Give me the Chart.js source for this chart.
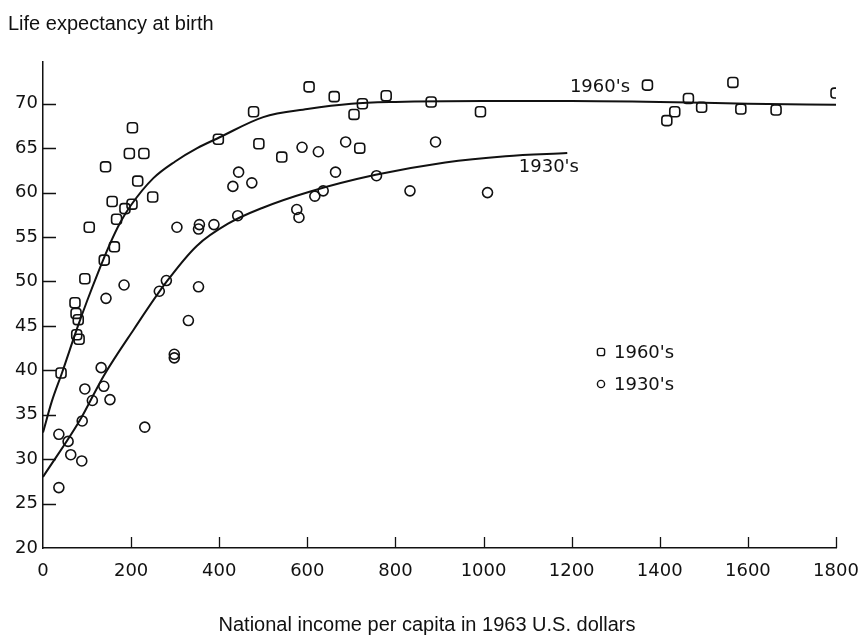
<!DOCTYPE html>
<html>
<head>
<meta charset="utf-8">
<script src="https://cdn.jsdelivr.net/npm/chart.js@4/dist/chart.umd.min.js"></script>
<style>
  html, body { margin: 0; padding: 0; background: #ffffff; }
  #wrap { width: 860px; height: 642px; position: relative; }
</style>
</head>
<body>
<div id="wrap"><canvas id="chart" width="860" height="642"></canvas></div>
<script>
// Axis ticks
const incomeTicks = [0, 200, 400, 600, 800, 1000, 1200, 1400, 1600, 1800];
const lifeTicks = [20, 25, 30, 35, 40, 45, 50, 55, 60, 65, 70];

// Countries observed in the 1960's (national income per capita, life expectancy)
const income1960 = [41, 72.6, 75, 80, 76.5, 82, 95, 105, 139, 162, 167, 157, 186, 202, 142, 215, 196, 229, 203, 249,
                    398, 478, 490, 542, 604, 661, 706, 725, 779, 881, 993, 719,
                    1372, 1416, 1434, 1465, 1495, 1566, 1584, 1664, 1800];
const life1960 = [39.7, 47.6, 46.4, 45.7, 44.0, 43.5, 50.3, 56.1, 52.4, 53.9, 57.0, 59.0, 58.2, 58.7, 62.9, 61.3, 64.4, 64.4, 67.3, 59.5,
                  66.0, 69.1, 65.5, 64.0, 71.9, 70.8, 68.8, 70.0, 70.9, 70.2, 69.1, 65.0,
                  72.1, 68.1, 69.1, 70.6, 69.6, 72.4, 69.4, 69.3, 71.2];

// Countries observed in the 1930's
const income1930 = [36, 57, 63, 88, 36, 89, 95, 112, 132, 138, 152, 231, 143, 184, 264, 280, 353, 330, 298, 298,
                    304, 355, 353, 388, 442, 431, 474, 444, 576, 581, 617, 636, 664, 757, 833, 1009,
                    588, 625, 687, 891];
const life1930 = [32.8, 32.0, 30.5, 29.8, 26.8, 34.3, 37.9, 36.6, 40.3, 38.2, 36.7, 33.6, 48.1, 49.6, 48.9, 50.1, 49.4, 45.6, 41.8, 41.4,
                  56.1, 56.4, 55.9, 56.4, 57.4, 60.7, 61.1, 62.3, 58.1, 57.2, 59.6, 60.2, 62.3, 61.9, 60.2, 60.0,
                  65.1, 64.6, 65.7, 65.7];

// Fitted curves
const fitIncome1960 = [0, 20, 43, 78, 100, 125, 150, 175, 200, 250, 300, 350, 400, 500, 600, 700, 800, 1000, 1200, 1400, 1600, 1800];
const fitLife1960 = [33, 36.5, 39.7, 44.8, 47.8, 51.0, 54.0, 56.6, 58.6, 61.6, 63.5, 65.0, 66.2, 68.5, 69.4, 70.0, 70.2, 70.3, 70.3, 70.2, 70.0, 69.9];
const fitIncome1930 = [0, 84, 138, 206, 281, 349, 420, 499, 605, 755, 913, 1050, 1190];
const fitLife1930 = [28.0, 34.4, 39.4, 44.6, 50.0, 54.0, 56.5, 58.3, 60.1, 62.0, 63.4, 64.1, 64.45];

const seriesNames = ["1960's", "1930's"];
const yAxisTitle = 'Life expectancy at birth';
const xAxisTitle = 'National income per capita in 1963 U.S. dollars';

const INK = '#111111';
const LETTER_FONT = '"DejaVu Sans", sans-serif';
const TITLE_FONT = '"Liberation Sans", Arial, sans-serif';

const toPoints = (xs, ys) => xs.map((x, i) => ({ x: x, y: ys[i] }));

// Inward tick marks, curve captions, legend and axis titles
const decorations = {
  id: 'decorations',
  afterDraw(chart) {
    const ctx = chart.ctx;
    const xs = chart.scales.x, ys = chart.scales.y;
    const area = chart.chartArea;
    ctx.save();
    ctx.strokeStyle = INK;
    ctx.lineWidth = 1.3;
    ctx.beginPath();
    lifeTicks.forEach(v => {
      if (v === lifeTicks[0]) return;
      const py = Math.round(ys.getPixelForValue(v)) + 0.5;
      ctx.moveTo(area.left, py);
      ctx.lineTo(area.left + 13, py);
    });
    incomeTicks.forEach(v => {
      if (v === incomeTicks[0]) return;
      const px = Math.round(xs.getPixelForValue(v)) + 0.5;
      ctx.moveTo(px, area.bottom);
      ctx.lineTo(px, area.bottom - 11);
    });
    ctx.stroke();

    // captions beside the fitted curves
    ctx.fillStyle = INK;
    ctx.font = '18px ' + LETTER_FONT;
    ctx.textAlign = 'left';
    ctx.textBaseline = 'middle';
    ctx.fillText(seriesNames[0], xs.getPixelForValue(1196), ys.getPixelForValue(71.9));
    ctx.fillText(seriesNames[1], xs.getPixelForValue(1080), ys.getPixelForValue(62.8));

    // legend
    const lx = 601, ly = [352, 384];
    const styles = ['rectRounded', 'circle'];
    const radii = [4.2, 3.6];
    ctx.lineWidth = 1.4;
    ctx.fillStyle = 'rgba(255,255,255,0)';
    styles.forEach((st, i) => {
      Chart.helpers.drawPoint(ctx, { pointStyle: st, radius: radii[i], rotation: 0, borderWidth: 1.4 }, lx, ly[i]);
    });
    ctx.fillStyle = INK;
    ctx.font = '18px ' + LETTER_FONT;
    ctx.fillText(seriesNames[0], 614, ly[0] + 1);
    ctx.fillText(seriesNames[1], 614, ly[1] + 1);

    // axis titles
    ctx.font = '20px ' + TITLE_FONT;
    ctx.textBaseline = 'alphabetic';
    ctx.textAlign = 'left';
    ctx.fillText(yAxisTitle, 8, 30);
    ctx.textAlign = 'center';
    ctx.fillText(xAxisTitle, 427, 631);
    ctx.restore();
  }
};

new Chart(document.getElementById('chart'), {
  type: 'scatter',
  data: {
    datasets: [
      {
        label: seriesNames[0],
        data: toPoints(income1960, life1960),
        pointStyle: 'rectRounded',
        pointRadius: 5.8,
        borderWidth: 1.6,
        borderColor: INK,
        backgroundColor: 'rgba(255,255,255,0)'
      },
      {
        label: seriesNames[1],
        data: toPoints(income1930, life1930),
        pointStyle: 'circle',
        pointRadius: 5,
        borderWidth: 1.6,
        borderColor: INK,
        backgroundColor: 'rgba(255,255,255,0)'
      },
      {
        label: seriesNames[0] + ' fit',
        data: toPoints(fitIncome1960, fitLife1960),
        showLine: true,
        pointRadius: 0,
        borderColor: INK,
        borderWidth: 2,
        cubicInterpolationMode: 'monotone',
        fill: false
      },
      {
        label: seriesNames[1] + ' fit',
        data: toPoints(fitIncome1930, fitLife1930),
        showLine: true,
        pointRadius: 0,
        borderColor: INK,
        borderWidth: 2,
        cubicInterpolationMode: 'monotone',
        fill: false
      }
    ]
  },
  options: {
    responsive: false,
    devicePixelRatio: 1,
    animation: false,
    layout: { padding: { top: 62, right: 24, left: 0, bottom: 0 } },
    plugins: {
      legend: { display: false },
      tooltip: { enabled: false },
      title: { display: false }
    },
    scales: {
      x: {
        type: 'linear',
        min: 0,
        max: 1800,
        afterBuildTicks: s => { s.ticks = incomeTicks.map(v => ({ value: v })); },
        afterFit: s => { s.height = 94; s.paddingLeft = 0; s.paddingRight = 0; },
        grid: { display: false, drawTicks: false },
        border: { display: true, color: INK, width: 1.5 },
        ticks: {
          color: INK,
          font: { family: LETTER_FONT, size: 18 },
          padding: 13,
          maxRotation: 0,
          autoSkip: false,
          callback: v => String(v)
        }
      },
      y: {
        type: 'linear',
        min: 20,
        max: 74.7,
        afterBuildTicks: s => { s.ticks = lifeTicks.map(v => ({ value: v })); },
        afterFit: s => { s.width = 43; },
        grid: { display: false, drawTicks: false },
        border: { display: true, color: INK, width: 1.5 },
        ticks: {
          color: INK,
          font: { family: LETTER_FONT, size: 18 },
          padding: 5,
          autoSkip: false,
          callback: v => String(v)
        }
      }
    }
  },
  plugins: [decorations]
});
</script>
</body>
</html>
